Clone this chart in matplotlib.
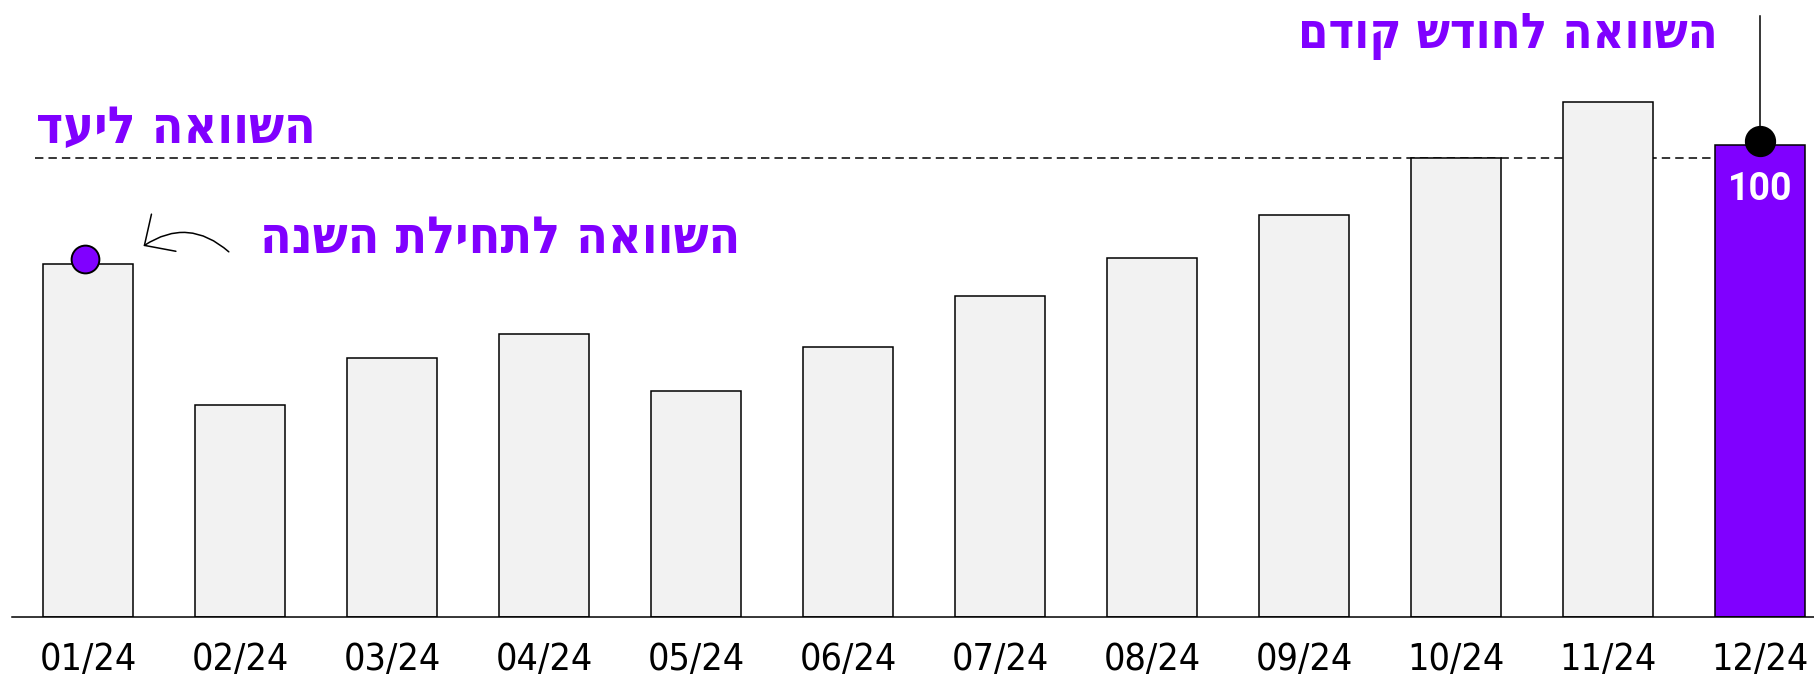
import matplotlib
matplotlib.use("Agg")
import matplotlib.pyplot as plt
from matplotlib import transforms

months = ["01/24", "02/24", "03/24", "04/24", "05/24", "06/24",
          "07/24", "08/24", "09/24", "10/24", "11/24", "12/24"]
values = [74.8, 44.9, 54.9, 59.8, 47.8, 57.1, 67.9, 76.0, 85.0, 97.1, 109.1, 100]
target = 97.1
highlight_label = "100"

title_prev = "השוואה לחודש קודם"
title_target = "השוואה ליעד"
title_start = "השוואה לתחילת השנה"

PURPLE = "#8000ff"
GREY = "#f2f2f2"

def rtl(s):
    return s[::-1]

fig = plt.figure(figsize=(18.14, 6.81), dpi=100)
ax = fig.add_axes([12 / 1814, 64 / 681, 1 - 12 / 1814, 617 / 681])

x = list(range(len(months)))
colors = [GREY] * (len(values) - 1) + [PURPLE]
ax.bar(x, values, width=0.59, color=colors, edgecolor="black", linewidth=1.1, zorder=3)

ax.set_xlim(-0.5, 11.355)
ax.set_ylim(0, 130.6)

# target dashed line (behind bars)
ax.plot([-0.35, 11], [target, target], color="black", lw=1.1,
        linestyle=(0, (5.5, 3.3)), zorder=2)

hfont = dict(family=["DejaVu Sans"], fontstretch="condensed", fontweight="bold", color=PURPLE)

ax.text(1.5, 103.4, rtl(title_target), ha="right", va="center", fontsize=37, **hfont)
ax.text(4.29, 80.1, rtl(title_start), ha="right", va="center", fontsize=37, **hfont)
ax.text(10.72, 123.0, rtl(title_prev), ha="right", va="center", fontsize=35, **hfont)

# previous-month marker on last bar
up = transforms.offset_copy(ax.transData, fig=fig, x=0, y=4, units="dots")
ax.plot([x[-1], x[-1]], [values[-1], 127.2], color="black", lw=1.1, zorder=4)
ax.plot([x[-1]], [values[-1]], "o", ms=21.5, color="black", transform=up, zorder=5)

# start-of-year marker on first bar
up2 = transforms.offset_copy(ax.transData, fig=fig, x=-3, y=5, units="dots")
ax.plot([x[0]], [values[0]], "o", ms=20, markerfacecolor=PURPLE,
        markeredgecolor="black", markeredgewidth=1.4, transform=up2, zorder=5)

ax.annotate("", xy=(0.35, 78.2), xytext=(0.94, 76.9),
            arrowprops=dict(arrowstyle="->,head_length=0.83,head_width=0.8",
                            connectionstyle="arc3,rad=0.4", color="black",
                            lw=1.1, mutation_scale=20), zorder=6)

# value label inside last bar
ax.annotate(highlight_label, xy=(x[-1], values[-1]), xytext=(0, -32),
            textcoords="offset points", ha="center", va="center",
            fontsize=27, fontweight="bold", color="white", family="Roboto", zorder=6)

ax.set_xticks(x)
ax.set_xticklabels(months, fontsize=27, family="DejaVu Sans", fontstretch="condensed")
ax.tick_params(axis="x", length=0, pad=18)
ax.set_yticks([])
for s in ["top", "left", "right"]:
    ax.spines[s].set_visible(False)
ax.spines["bottom"].set_linewidth(1.1)
ax.spines["bottom"].set_zorder(4)

fig.savefig("out.png", dpi=100)
